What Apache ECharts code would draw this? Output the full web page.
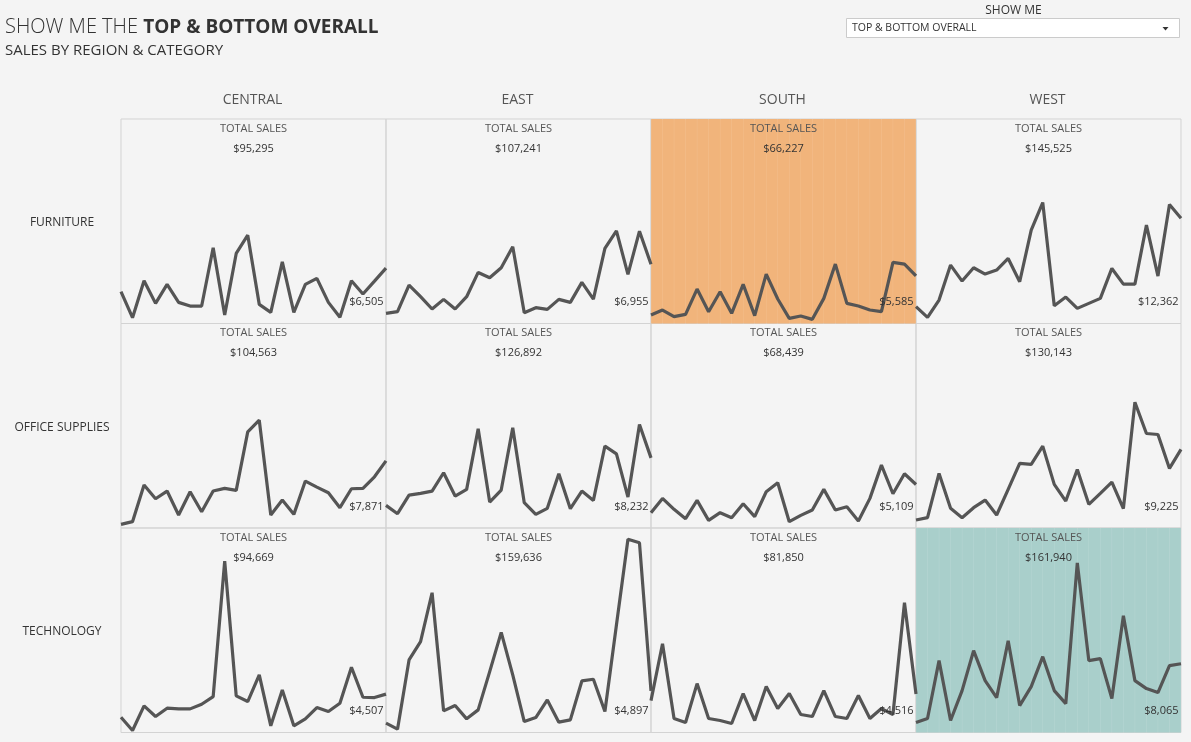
<!DOCTYPE html>
<html><head><meta charset="utf-8">
<script src="https://cdn.jsdelivr.net/npm/echarts@6/dist/echarts.min.js"></script>
<style>html,body{margin:0;padding:0;background:#f4f4f4;}#c{width:1191px;height:742px;}</style>
</head><body><div id="c"></div>
<script>
// ---- data ----
const regions = ['CENTRAL', 'EAST', 'SOUTH', 'WEST'];
const categories = ['FURNITURE', 'OFFICE SUPPLIES', 'TECHNOLOGY'];
const periods = ['1','2','3','4','5','6','7','8','9','10','11','12','13','14','15','16','17','18','19','20','21','22','23','24'];

const furnitureCentral = [3729,683,5018,2363,4588,2480,2050,2050,8884,996,8220,10368,2245,1308,7244,1308,4588,5291,2480,722,5018,3456,4979,6505];
const furnitureEast    = [1191,1386,4510,3144,1699,2831,1699,3144,5994,5369,6541,9001,1269,1855,1660,2831,2480,4823,2870,8806,10875,5760,10836,6955];
const furnitureSouth   = [996,1582,801,1074,4042,1386,3729,1191,4588,918,5799,2870,605,879,488,2948,6970,2363,2050,1582,1386,7166,6970,5585];
const furnitureWest    = [1972,722,2753,6853,4979,6541,5799,6268,7634,4901,10954,14195,2089,3104,1777,2363,2948,6463,4627,4627,11539,5565,13960,12362];

const officeCentral = [430,742,5037,3436,4335,1523,4256,1913,4335,4647,4413,11285,12652,1523,3280,1601,5506,4803,4139,2382,4608,4647,6014,7871];
const officeEast    = [2655,1679,3866,4061,4335,6482,3749,4530,11637,3046,4452,11754,2968,1601,2304,6365,2265,4335,3241,9606,8708,3632,12145,8232];
const officeSouth   = [1796,3475,2187,1093,3241,898,1796,1211,2851,1328,4256,5311,742,1484,2109,4530,2109,2499,820,3475,7380,4022,6365,5109];
const officeWest    = [937,1211,6404,2304,1211,2382,3280,1523,4530,7576,7459,9606,5116,3163,6873,2773,4061,5389,2265,14761,11090,10973,6990,9225];

const techCentral = [1796,234,3124,1874,2851,2773,2773,3319,4217,20111,4296,3632,6756,781,4998,781,1601,2929,2460,3436,7654,4139,4100,4507];
const techEast    = [1093,391,8513,10661,16401,2538,3163,1601,2655,7146,11754,6756,1289,1757,3827,1211,1484,6053,6248,2460,12613,22688,22259,4897];
const techSouth   = [3747,10422,1639,1171,5738,1639,1405,1054,4567,1405,5387,2810,4567,2108,1874,4918,1874,1639,4333,1639,2810,2108,15223,4516];
const techWest    = [1171,1639,8431,1405,4918,9602,6089,4099,10773,3162,5387,8900,4918,3396,19907,8431,8665,3981,13701,6089,5152,4684,7846,8065];

const totalsFurniture = [95295, 107241, 66227, 145525];
const totalsOffice    = [104563, 126892, 68439, 130143];
const totalsTech      = [94669, 159636, 81850, 161940];

// ---- build ----
const seriesGrid = [
  [furnitureCentral, furnitureEast, furnitureSouth, furnitureWest],
  [officeCentral, officeEast, officeSouth, officeWest],
  [techCentral, techEast, techSouth, techWest]
];
const totalsGrid = [totalsFurniture, totalsOffice, totalsTech];
const allTotals = totalsGrid.flat();
const maxTotal = Math.max(...allTotals), minTotal = Math.min(...allTotals);
const gapCats = periods.slice(1);

const L0 = 121, CW = 265, T0 = 119, RH = 204.5, YMAX = 24000;
const fmt = v => '$' + v.toLocaleString('en-US');
const FONT = "'Open Sans', 'Noto Sans', sans-serif";

const grid = [], xAxis = [], yAxis = [], series = [], graphics = [];
let gi = 0, xi = 0;
for (let r = 0; r < 3; r++) {
  for (let c = 0; c < 4; c++) {
    const left = L0 + c * CW, top = T0 + r * RH;
    const tot = totalsGrid[r][c];
    let hl = null, hlLight = 'transparent';
    if (tot === maxTotal) { hl = '#a9cfcb'; hlLight = '#bcd9d6'; }
    if (tot === minTotal) { hl = '#f1b47b'; hlLight = '#f4c293'; }
    grid.push({left, top, width: CW, height: RH, show: true, borderColor: '#d3d3d3', borderWidth: 1, backgroundColor: hlLight});
    yAxis.push({gridIndex: gi, type: 'value', min: 0, max: YMAX, show: false});
    if (hl) {
      xAxis.push({gridIndex: gi, type: 'category', data: gapCats, boundaryGap: true, show: false});
      series.push({type: 'bar', xAxisIndex: xi, yAxisIndex: gi, data: gapCats.map(() => YMAX),
        barCategoryGap: '3%', itemStyle: {color: hl}, silent: true, z: 1});
      xi++;
    }
    xAxis.push({gridIndex: gi, type: 'category', data: periods, boundaryGap: false, show: false});
    const vals = seriesGrid[r][c];
    series.push({type: 'line', xAxisIndex: xi, yAxisIndex: gi, data: vals, symbol: 'none',
      lineStyle: {color: '#555555', width: 3.2}, z: 5, silent: true});
    xi++;
    graphics.push({type: 'text', z: 100, style: {text: 'TOTAL SALES', x: left + CW / 2, y: top + 9.5, align: 'center', verticalAlign: 'middle', fill: '#555', font: '11px ' + FONT}});
    graphics.push({type: 'text', z: 100, style: {text: fmt(tot), x: left + CW / 2, y: top + 29.5, align: 'center', verticalAlign: 'middle', fill: '#333', font: '11px ' + FONT}});
    graphics.push({type: 'text', z: 100, style: {text: fmt(vals[vals.length - 1]), x: left + CW - 2.5, y: top + 183, align: 'right', verticalAlign: 'middle', fill: '#333', font: '11px ' + FONT}});
    gi++;
  }
}
regions.forEach((name, c) => graphics.push({type: 'text', z: 100, style: {text: name, x: L0 + c * CW + CW / 2 - 1, y: 100.5, align: 'center', verticalAlign: 'middle', fill: '#555', font: '14px ' + FONT}}));
categories.forEach((name, r) => graphics.push({type: 'text', z: 100, style: {text: name, x: 62, y: T0 + r * RH + RH / 2 + 1.5, align: 'center', verticalAlign: 'middle', fill: '#333', font: '12px ' + FONT}}));

// title
graphics.push({type: 'text', z: 100, style: {x: 5, y: 27.5, verticalAlign: 'middle',
  text: '{a|SHOW ME THE }{b|TOP & BOTTOM OVERALL}',
  rich: {a: {fontFamily: FONT, fontSize: 20, fontWeight: 300, fill: '#333', color: '#333'},
         b: {fontFamily: FONT, fontSize: 19, fontWeight: 'bold', fill: '#333', color: '#333'}}}});
graphics.push({type: 'text', z: 100, style: {text: 'SALES BY REGION & CATEGORY', x: 5, y: 51, verticalAlign: 'middle', fill: '#333', font: '15px ' + FONT}});
// show me control
graphics.push({type: 'text', z: 100, style: {text: 'SHOW ME', x: 1013.5, y: 10.5, align: 'center', verticalAlign: 'middle', fill: '#333', font: '12px ' + FONT}});
graphics.push({type: 'rect', z: 100, shape: {x: 846.5, y: 18.5, width: 333, height: 19}, style: {fill: '#fff', stroke: '#cbcbcb', lineWidth: 1}});
graphics.push({type: 'text', z: 101, style: {text: 'TOP & BOTTOM OVERALL', x: 852, y: 28.5, verticalAlign: 'middle', fill: '#333', font: '10.5px ' + FONT}});
graphics.push({type: 'polygon', z: 101, shape: {points: [[1162.5, 27], [1168.5, 27], [1165.5, 30.5]]}, style: {fill: '#333'}});

const chart = echarts.init(document.getElementById('c'), null, {renderer: 'canvas'});
chart.setOption({backgroundColor: '#f4f4f4', animation: false, grid, xAxis, yAxis, series, graphic: {elements: graphics}});
</script></body></html>
